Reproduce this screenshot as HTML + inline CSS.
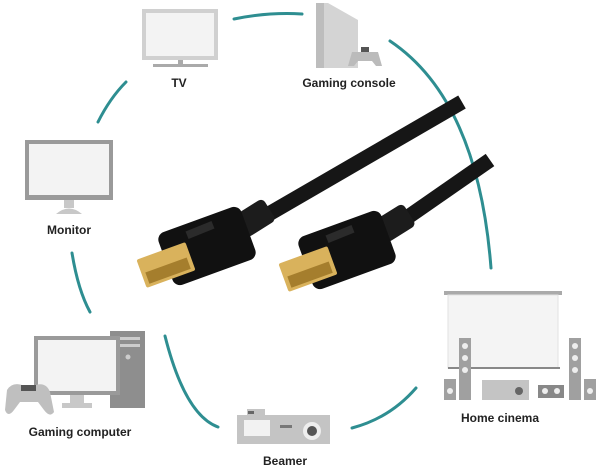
<!DOCTYPE html>
<html><head><meta charset="utf-8"><style>
html,body{margin:0;padding:0;background:#fff;width:600px;height:467px;overflow:hidden}
svg{display:block}
text{font-family:"Liberation Sans",sans-serif;font-weight:bold;font-size:12px;fill:#222}
</style></head><body>
<svg width="600" height="467" viewBox="0 0 600 467" xmlns="http://www.w3.org/2000/svg">
<g fill="none" stroke="#2e8e91" stroke-width="3" stroke-linecap="round">
<path d="M234 19 Q268 12 302 14"/>
<path d="M390 41 Q478 100 491 268"/>
<path d="M416 388 Q390 418 352 428"/>
<path d="M165 336 Q185 415 218 427"/>
<path d="M72 253 Q78 290 90 312"/>
<path d="M98 122 Q110 98 126 82"/>
</g>
<!-- TV -->
<rect x="142" y="9" width="76" height="51" fill="#d0d0d0"/>
<rect x="146" y="13" width="68" height="43" fill="#f3f3f3"/>
<rect x="178" y="60" width="5" height="4" fill="#aaa"/>
<rect x="153" y="64" width="55" height="3" fill="#aaa"/>
<text x="179" y="87" text-anchor="middle">TV</text>
<!-- Console -->
<path d="M316 3 L328 3 L358 20 L358 68 L316 68Z" fill="#d4d4d4"/>
<rect x="316" y="3" width="8" height="65" fill="#bdbdbd"/>
<path d="M352 52 h26 l4 14 h-6 l-4-5 h-14 l-4 5 h-6z" fill="#bbb"/>
<rect x="361" y="47" width="8" height="5" fill="#555"/>
<text x="349" y="87" text-anchor="middle">Gaming console</text>
<!-- Monitor -->
<rect x="25" y="140" width="88" height="60" fill="#9a9a9a"/>
<rect x="29" y="144" width="80" height="51" fill="#f3f3f3"/>
<rect x="64" y="200" width="10" height="8" fill="#c8c8c8"/>
<path d="M56 214 Q69 203 82 214Z" fill="#c8c8c8"/>
<text x="69" y="234" text-anchor="middle">Monitor</text>
<!-- Gaming computer -->
<rect x="110" y="331" width="35" height="77" fill="#8e8e8e"/>
<rect x="115" y="337" width="25" height="3" fill="#ccc"/>
<rect x="115" y="344" width="25" height="3" fill="#ccc"/>
<circle cx="128" cy="357" r="2.5" fill="#ccc"/>
<rect x="34" y="336" width="86" height="59" fill="#9a9a9a"/>
<rect x="38" y="340" width="78" height="51" fill="#f3f3f3"/>
<rect x="70" y="395" width="14" height="8" fill="#c8c8c8"/>
<rect x="62" y="403" width="30" height="5" fill="#c8c8c8"/>
<path d="M7 390 Q12 382 22 385 h14 Q46 382 50 392 L54 412 Q50 418 44 410 L38 402 h-18 l-6 8 Q8 418 5 410Z" fill="#bfbfbf"/>
<rect x="21" y="385" width="15" height="6" fill="#555"/>
<text x="80" y="436" text-anchor="middle">Gaming computer</text>
<!-- Beamer -->
<rect x="237" y="415" width="93" height="29" fill="#c4c4c4"/>
<rect x="247" y="409" width="18" height="6" fill="#c4c4c4"/>
<rect x="248" y="411" width="6" height="3" fill="#666"/>
<rect x="244" y="420" width="26" height="16" fill="#f2f2f2"/>
<circle cx="312" cy="431" r="9" fill="#eee"/>
<circle cx="312" cy="431" r="5" fill="#555"/>
<rect x="280" y="425" width="12" height="3" fill="#777"/>
<text x="285" y="465" text-anchor="middle">Beamer</text>
<!-- Home cinema -->
<rect x="444" y="291" width="118" height="4" fill="#aaa"/>
<rect x="448" y="295" width="110" height="73" fill="#f4f4f4" stroke="#e2e2e2"/>
<rect x="448" y="367" width="112" height="2" fill="#888"/>
<rect x="459" y="338" width="12" height="62" fill="#a0a0a0"/>
<rect x="569" y="338" width="12" height="62" fill="#a0a0a0"/>
<rect x="444" y="379" width="12" height="21" fill="#a0a0a0"/>
<rect x="584" y="379" width="12" height="21" fill="#a0a0a0"/>
<rect x="482" y="380" width="47" height="20" fill="#c4c4c4"/>
<circle cx="519" cy="391" r="4" fill="#666"/>
<rect x="538" y="385" width="26" height="13" fill="#888"/>
<g fill="#eee"><circle cx="465" cy="346" r="3"/><circle cx="465" cy="358" r="3"/><circle cx="465" cy="370" r="3"/><circle cx="575" cy="346" r="3"/><circle cx="575" cy="358" r="3"/><circle cx="575" cy="370" r="3"/><circle cx="450" cy="391" r="3"/><circle cx="590" cy="391" r="3"/><circle cx="545" cy="391" r="3"/><circle cx="557" cy="391" r="3"/></g>
<text x="500" y="422" text-anchor="middle">Home cinema</text>
<!-- Cables -->
<g stroke="#161616" fill="none">
<path d="M255 222 L462 102" stroke-width="15"/>
<path d="M395 226 L490 160" stroke-width="15"/>
</g>
<!-- plug 1 -->
<rect x="238" y="205" width="34" height="26" rx="5" fill="#1c1c1c" transform="rotate(-32 255 218)"/>
<rect x="163" y="218" width="88" height="56" rx="8" fill="#111" transform="rotate(-20 207 246)"/>
<rect x="140" y="250" width="52" height="30" rx="2" fill="#d9b25c" transform="rotate(-20 166 265)"/>
<rect x="144" y="265" width="44" height="12" fill="#a57e2d" transform="rotate(-20 166 265)"/>
<rect x="186" y="226" width="28" height="8" fill="#2b2b2b" transform="rotate(-22 200 230)"/>
<!-- plug 2 -->
<rect x="378" y="210" width="34" height="26" rx="5" fill="#1c1c1c" transform="rotate(-32 395 223)"/>
<rect x="303" y="222" width="88" height="56" rx="8" fill="#111" transform="rotate(-20 347 250)"/>
<rect x="282" y="254" width="52" height="30" rx="2" fill="#d9b25c" transform="rotate(-20 308 269)"/>
<rect x="286" y="269" width="44" height="12" fill="#a57e2d" transform="rotate(-20 308 269)"/>
<rect x="326" y="230" width="28" height="8" fill="#2b2b2b" transform="rotate(-22 340 234)"/>
</svg>
</body></html>
